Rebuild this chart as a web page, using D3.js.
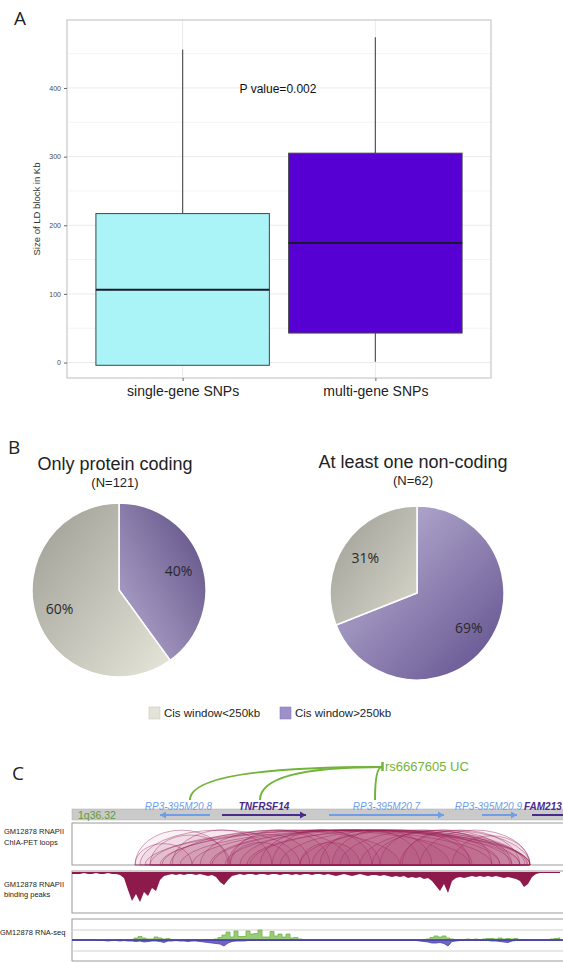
<!DOCTYPE html>
<html><head><meta charset="utf-8">
<script src="https://cdn.jsdelivr.net/npm/d3@7"></script>
<style>body{margin:0;background:#fff}svg{display:block}</style>
</head><body><svg id="c" width="563" height="963"></svg>
<script>
// ---------- Panel A data ----------
const boxCategories = ["single-gene SNPs", "multi-gene SNPs"];
const boxQ1 = [-4, 43];
const boxMedian = [106, 174];
const boxQ3 = [217, 305];
const whiskerLow = [-4, 1];
const whiskerHigh = [456, 474];
const boxColors = ["#aaf4f8", "#5700d4"];
const yTicks = [0, 100, 200, 300, 400];
const yMinorTicks = [50, 150, 250, 350, 450];
const pValueText = "P value=0.002";

// ---------- Panel B data ----------
const pieTitles = ["Only protein coding", "At least one non-coding"];
const pieN = [121, 62];
const pieAbove250 = [40, 69];   // Cis window>250kb (%)
const pieBelow250 = [60, 31];   // Cis window<250kb (%)
const legendLabels = ["Cis window<250kb", "Cis window>250kb"];

// ---------- Panel C data (positions in kb from region start) ----------
const regionLabel = "1q36.32";
const geneNames = ["RP3-395M20.8", "TNFRSF14", "RP3-395M20.7", "RP3-395M20.9", "FAM213"];
const geneStart = [88, 150, 257, 410, 460];
const geneEnd = [138, 234, 372, 445, 540];
const geneStrand = [-1, 1, 1, 1, 1];
const geneCoding = [false, true, false, false, true];
const snpName = "rs6667605 UC";
const snpPos = 310;
const snpTargets = [118, 188, 303];
const loopStart = [63, 68, 73, 78, 88, 98, 108, 128, 138, 153, 158, 168, 178, 188, 208, 228, 248, 268, 288, 158, 228, 308, 328, 348, 78, 156, 63, 100, 200, 260, 330, 380, 120, 90, 140, 175, 240, 300];
const loopEnd   = [156, 228, 458, 398, 448, 328, 458, 278, 428, 448, 258, 378, 456, 308, 428, 453, 348, 438, 458, 218, 288, 398, 448, 458, 158, 238, 120, 200, 300, 360, 420, 458, 458, 420, 440, 455, 400, 440];
const bindingBin = 4;
const bindingPeaks = [2,2,2,1,2,2,1,2,2,1,2,2,3,6,18,29,22,30,20,24,16,19,8,4,3,2,3,2,3,2,2,3,2,3,4,3,5,10,13,8,4,3,2,3,2,2,3,2,2,3,2,2,3,2,2,3,2,3,2,2,3,2,2,3,2,3,4,3,2,3,4,3,2,3,4,3,3,4,3,4,5,4,5,4,6,5,6,5,7,6,9,14,19,12,21,9,6,5,6,5,4,5,4,5,4,5,4,5,6,5,6,7,9,15,12,5,2,1,1,1,1,1,1];
const rnaBin = 4;
const rnaPlus = [0,0,0,0,0,0,0,0,0,0,0,0,0.3,0.3,0.3,0.5,2,3.5,2,1,1,3,2,1,1.5,0.5,0.3,0.3,0.3,0.3,0.3,0.3,0.3,0.3,0.5,0.5,1,2.5,5,8,3,9,3.5,3.5,9,6,6.5,10,3,3,8.5,4,6,3,6,2,2.5,1,0.5,0.3,0.3,0.3,0.3,0.3,0.3,0.3,0.3,0.3,0.3,0.3,0.3,0.3,0.3,0.3,0.3,0.3,0.3,0.3,0.3,0.3,0.3,0.3,0.3,0.3,0.3,0.3,0.3,0.3,0.3,1,2.5,4,3,4,2,1,0.5,0.5,0.5,1,0.5,1,0.5,1,1.5,1.5,1,2,1,1.5,1,1.5,0.5,0.5,0.5,0.3,0.3,0.5,0.3,0.5,1,1.5,2];
const rnaMinus = [0,0,0,0,0,0,0,0.5,0.5,1,0.5,0.5,1,0.5,1,1,1.5,1,2,1.5,1,1,1.5,2.5,1,1,0.5,1,1,1.5,1,1,1.5,2,2.5,3,3.5,4,6,3,1.5,1,1,1,0.5,0.5,0.5,0.5,0.5,0.5,0.5,0.5,0.5,0.5,0.5,0.5,0.5,0.5,0.5,0.5,0.5,0.5,0.5,0.5,0.5,0.5,0.5,0.5,0.5,0.5,0.5,0.5,0.5,0.5,0.5,0.5,0.5,0.5,0.5,0.5,0.5,0.5,0.5,0.5,0.5,0.5,0.5,1,1.5,2,3,3,2.5,3.5,6,1.5,1,0.5,0.5,0.5,0.5,0.5,0.5,0.5,0.5,1,1,1.5,2,2.5,1,0.5,0.5,0.5,0.3,0.3,0.3,0.3,0.3,0.3,0.3,0.3,0.3,0.3];
const trackLabels = [["GM12878 RNAPII", "ChIA-PET loops"], ["GM12878 RNAPII", "binding peaks"], ["GM12878 RNA-seq"]];

const svg = d3.select("#c");
const defs = svg.append("defs");
const SANS = "'Liberation Sans', Arial, sans-serif";
const SOFT = "'Open Sans', 'Liberation Sans', sans-serif";

// panel letters
[["A", 14, 25], ["B", 8, 454], ["C", 12, 780]].forEach(([t, px, py]) =>
  svg.append("text").attr("x", px).attr("y", py).text(t)
    .attr("font-family", SOFT).attr("font-size", 19).attr("fill", "#222"));

// ================= Panel A =================
(function () {
  const g = svg.append("g");
  const L = 67, R = 491, T = 20, B = 378;
  const x = d3.scalePoint().domain(boxCategories).range([L, R]).padding(0.6);
  const y = d3.scaleLinear().domain([-22.5, 499]).range([B, T]);
  g.append("rect").attr("x", L).attr("y", T).attr("width", R - L).attr("height", B - T).attr("fill", "#fff");
  g.selectAll(".mn").data(yMinorTicks).join("line")
    .attr("x1", L).attr("x2", R).attr("y1", d => y(d)).attr("y2", d => y(d))
    .attr("stroke", "#f4f4f4").attr("stroke-width", 1);
  g.selectAll(".mj").data(yTicks).join("line")
    .attr("x1", L).attr("x2", R).attr("y1", d => y(d)).attr("y2", d => y(d))
    .attr("stroke", "#ebebeb").attr("stroke-width", 1);
  g.selectAll(".vx").data(boxCategories).join("line")
    .attr("x1", d => x(d)).attr("x2", d => x(d)).attr("y1", T).attr("y2", B)
    .attr("stroke", "#ebebeb").attr("stroke-width", 1);
  const bw = x.step() * 0.9;
  boxCategories.forEach((c, i) => {
    const cx = x(c);
    g.append("line").attr("x1", cx).attr("x2", cx).attr("y1", y(whiskerHigh[i])).attr("y2", y(boxQ3[i]))
      .attr("stroke", "#555").attr("stroke-width", 1.2);
    g.append("line").attr("x1", cx).attr("x2", cx).attr("y1", y(boxQ1[i])).attr("y2", y(whiskerLow[i]))
      .attr("stroke", "#555").attr("stroke-width", 1.2);
    g.append("rect").attr("x", cx - bw / 2).attr("y", y(boxQ3[i])).attr("width", bw)
      .attr("height", y(boxQ1[i]) - y(boxQ3[i])).attr("fill", boxColors[i])
      .attr("stroke", "#444").attr("stroke-width", 1);
    g.append("line").attr("x1", cx - bw / 2).attr("x2", cx + bw / 2)
      .attr("y1", y(boxMedian[i])).attr("y2", y(boxMedian[i]))
      .attr("stroke", "#1a1a2a").attr("stroke-width", 2);
  });
  g.append("rect").attr("x", L).attr("y", T).attr("width", R - L).attr("height", B - T)
    .attr("fill", "none").attr("stroke", "#c8c8c8").attr("stroke-width", 1.2);
  const ax = g.append("g").attr("transform", `translate(${L},0)`)
    .call(d3.axisLeft(y).tickValues(yTicks).tickSize(3).tickPadding(3));
  ax.select(".domain").remove();
  ax.selectAll("line").attr("stroke", "#666");
  ax.selectAll("text").attr("font-family", SANS).attr("font-size", 7).attr("fill", "#4a4a4a");
  const bx = g.append("g").attr("transform", `translate(0,${B})`)
    .call(d3.axisBottom(x).tickSize(3).tickPadding(5));
  bx.select(".domain").remove();
  bx.selectAll("line").attr("stroke", "#666");
  bx.selectAll("text").attr("font-family", SANS).attr("font-size", 14).attr("fill", "#222");
  g.append("text").attr("transform", `translate(40,${(T + B) / 2 + 10}) rotate(-90)`)
    .attr("text-anchor", "middle").attr("font-family", SANS).attr("font-size", 9.5).attr("fill", "#333")
    .text("Size of LD block in Kb");
  g.append("text").attr("x", 278).attr("y", 93).attr("text-anchor", "middle")
    .attr("font-family", SANS).attr("font-size", 12).attr("fill", "#111").text(pValueText);
})();

// ================= Panel B =================
(function () {
  const g = svg.append("g");
  const centers = [[119, 590], [417, 593]];
  const titleY = [470, 468];
  const r = 87;
  const gradSpecs = [
    { above: ["#b8aed3", "#5a4a80", 0, 1, 1, 0], below: ["#9c9c94", "#e6e6da", 0, 0, 1, 1] },
    { above: ["#c6bedd", "#5f4d8c", 0, 0, 1, 1], below: ["#9c9c94", "#d8d8cc", 0, 0, 1, 1] }
  ];
  pieTitles.forEach((t, k) => {
    const [cx, cy] = centers[k];
    g.append("text").attr("x", cx - 4).attr("y", titleY[k]).attr("text-anchor", "middle")
      .attr("font-family", SANS).attr("font-size", 18).attr("fill", "#222").text(t);
    g.append("text").attr("x", cx - 4).attr("y", titleY[k] + 17).attr("text-anchor", "middle")
      .attr("font-family", SANS).attr("font-size", 13).attr("fill", "#222").text(`(N=${pieN[k]})`);
    const vals = [{ key: "above", v: pieAbove250[k] }, { key: "below", v: pieBelow250[k] }];
    const arcs = d3.pie().sort(null).value(d => d.v)(vals);
    const arc = d3.arc().innerRadius(0).outerRadius(r);
    const lab = d3.arc().innerRadius(r * 0.72).outerRadius(r * 0.72);
    const pg = g.append("g").attr("transform", `translate(${cx},${cy})`);
    arcs.forEach(a => {
      const s = gradSpecs[k][a.data.key];
      const id = `pg${k}${a.data.key}`;
      const lg = defs.append("linearGradient").attr("id", id)
        .attr("x1", s[2]).attr("y1", s[3]).attr("x2", s[4]).attr("y2", s[5]);
      lg.append("stop").attr("offset", 0).attr("stop-color", s[0]);
      lg.append("stop").attr("offset", 1).attr("stop-color", s[1]);
      pg.append("path").attr("d", arc(a)).attr("fill", `url(#${id})`)
        .attr("stroke", "#fff").attr("stroke-width", 1.5);
      const [lx, ly] = lab.centroid(a);
      pg.append("text").attr("x", lx).attr("y", ly + 5).attr("text-anchor", "middle")
        .attr("font-family", SOFT).attr("font-size", 14).attr("fill", "#2a2a2a").text(a.data.v + "%");
    });
  });
  // legend
  const legColors = ["#e3e3d7", "#9d8fc9"];
  const legX = [149, 280];
  legendLabels.forEach((t, i) => {
    g.append("rect").attr("x", legX[i]).attr("y", 707).attr("width", 11).attr("height", 12)
      .attr("fill", legColors[i]).attr("stroke", i === 0 ? "#c8c8bc" : "#8c7eb8").attr("stroke-width", 0.6);
    g.append("text").attr("x", legX[i] + 15).attr("y", 717).attr("font-family", SANS)
      .attr("font-size", 11.5).attr("fill", "#222").text(t);
  });
})();

// ================= Panel C =================
(function () {
  const g = svg.append("g");
  const X0 = 72;
  const xs = d3.scaleLinear().domain([0, 491]).range([X0, 563]);
  const green = "#72b43a";
  // SNP links
  snpTargets.forEach(tg => {
    const tx = xs(tg), sx = xs(snpPos);
    g.append("path").attr("d", `M${tx},800 Q${tx},767 ${sx},767`)
      .attr("fill", "none").attr("stroke", green).attr("stroke-width", 2);
  });
  g.append("line").attr("x1", xs(snpPos) + 0.5).attr("x2", xs(snpPos) + 0.5).attr("y1", 762).attr("y2", 771)
    .attr("stroke", green).attr("stroke-width", 2.5);
  g.append("text").attr("x", xs(snpPos) + 3).attr("y", 771).attr("font-family", SANS)
    .attr("font-size", 13).attr("fill", green).text(snpName);
  // chromosome bar
  g.append("rect").attr("x", X0).attr("y", 809).attr("width", 563 - X0 + 5).attr("height", 11)
    .attr("fill", "#cacaca").attr("stroke", "#b0b0b0").attr("stroke-width", 0.5);
  g.append("text").attr("x", X0 + 6).attr("y", 819).attr("font-family", SANS).attr("font-size", 10.5)
    .attr("fill", "#5f9a3c").text(regionLabel);
  // genes
  const labelG = g.append("g");
  geneNames.forEach((n, i) => {
    const col = geneCoding[i] ? "#4a2a8c" : "#6f9ee8";
    const a = xs(geneStart[i]), b = xs(geneEnd[i]);
    const yy = 815;
    g.append("line").attr("x1", a).attr("x2", b).attr("y1", yy).attr("y2", yy)
      .attr("stroke", col).attr("stroke-width", 2);
    if (b < 563) {
      const tip = geneStrand[i] > 0 ? b : a, dir = geneStrand[i] > 0 ? -1 : 1;
      g.append("path").attr("d", `M${tip},${yy} L${tip + dir * 6},${yy - 3.5} L${tip + dir * 6},${yy + 3.5}Z`).attr("fill", col);
    }
    const clipped = b > 563;
    const t = labelG.append("text").attr("y", 810)
      .attr("font-family", SANS).attr("font-size", 10).attr("font-style", "italic")
      .attr("font-weight", geneCoding[i] ? "bold" : "normal").attr("fill", col).text(n);
    if (clipped) {
      t.attr("x", a - 8).attr("text-anchor", "start");
    } else {
      const w = t.node().getComputedTextLength();
      let cx = (a + b) / 2;
      if (i + 1 < geneNames.length) cx = Math.min(cx, xs(geneStart[i + 1]) - 10 - w / 2);
      t.attr("x", cx).attr("text-anchor", "middle");
    }
  });
  // track boxes
  const boxes = [[823, 865], [871, 913], [919, 961]];
  boxes.forEach(([t, b]) => g.append("rect").attr("x", X0).attr("y", t).attr("width", 600).attr("height", b - t)
    .attr("fill", "#fff").attr("stroke", "#9a9a9a").attr("stroke-width", 1));
  // loops
  const base = 865;
  loopStart.forEach((s, i) => {
    const a = xs(s), b = xs(loopEnd[i]);
    const rx = (b - a) / 2, ry = Math.min(35, rx * 0.75);
    g.append("path").attr("d", `M${a},${base} A${rx},${ry} 0 0 1 ${b},${base}Z`)
      .attr("fill", "rgba(165,45,100,0.06)").attr("stroke", "rgba(150,30,85,0.5)").attr("stroke-width", 0.8);
  });
  // binding peaks (hanging from top)
  const yb = d3.scaleLinear().domain([0, 40]).range([872, 912]);
  const bArea = d3.area().x((d, i) => xs(i * bindingBin)).y0(yb(0)).y1(d => yb(d));
  g.append("path").datum(bindingPeaks).attr("d", bArea).attr("fill", "#8e1a4c");
  // RNA-seq
  const yr = d3.scaleLinear().domain([-11, 11]).range([951, 929]);
  [930, 951].forEach(v => g.append("line").attr("x1", X0).attr("x2", 563).attr("y1", v).attr("y2", v)
    .attr("stroke", "#cfcfcf").attr("stroke-width", 1));
  const pArea = d3.area().x((d, i) => xs(i * rnaBin)).y0(yr(0)).y1(d => yr(d)).curve(d3.curveStep);
  const mArea = d3.area().x((d, i) => xs(i * rnaBin)).y0(yr(0)).y1(d => yr(-d));
  g.append("path").datum(rnaPlus).attr("d", pArea).attr("fill", "#9acb7a").attr("stroke", "#6fb24a").attr("stroke-width", 0.8);
  g.append("path").datum(rnaMinus).attr("d", mArea).attr("fill", "#6f66c4").attr("stroke", "#4a3fb0").attr("stroke-width", 0.8);
  g.append("line").attr("x1", X0).attr("x2", 563).attr("y1", yr(0)).attr("y2", yr(0))
    .attr("stroke", "#4a3fa8").attr("stroke-width", 1.4);
  // track labels
  const labY = [[834, 845], [887, 897], [935]];
  trackLabels.forEach((ls, k) => ls.forEach((t, j) =>
    g.append("text").attr("x", k === 2 ? 0 : 4).attr("y", labY[k][j]).attr("font-family", SANS)
      .attr("font-size", 7.5).attr("fill", "#222").text(t)));
})();
</script></body></html>
